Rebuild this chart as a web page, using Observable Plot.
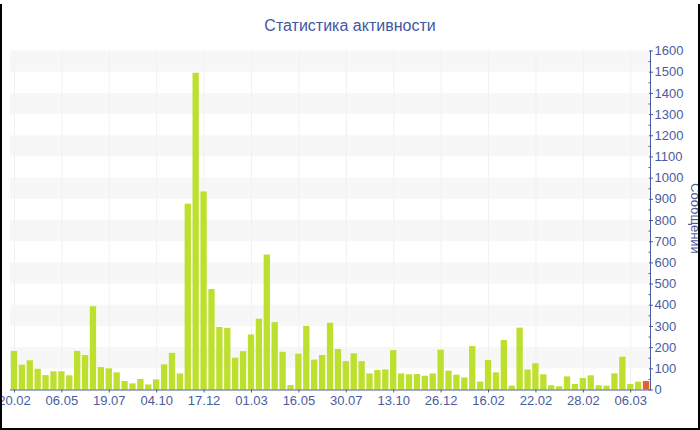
<!DOCTYPE html>
<html>
<head>
<meta charset="utf-8">
<script src="https://cdn.jsdelivr.net/npm/d3@7"></script>
<script src="https://cdn.jsdelivr.net/npm/@observablehq/plot@0.6"></script>
<style>
  html, body { margin: 0; padding: 0; background: #fff; }
  #wrap { position: relative; width: 700px; height: 430px; overflow: hidden; }
  #title { height: 40px; line-height: 52px; text-align: center; font-family: "Liberation Sans", Arial, sans-serif; font-size: 16px; color: #42579f; }
  #border { position: absolute; left: 0; top: 4px; width: 700px; height: 426px; box-sizing: border-box; border-left: 2px solid #000; border-right: 2px solid #000; border-bottom: 2px solid #000; pointer-events: none; }
</style>
</head>
<body>
<div id="wrap">
  <div id="title">Статистика активности</div>
  <div id="chart"></div>
  <div id="border"></div>
</div>
<script>
// Messages per period (81 periods, last one is the current, incomplete period)
const values = [182, 117, 138, 98, 68, 86, 86, 67, 182, 163,
                393, 106, 100, 81, 40, 29, 50, 24, 48, 119,
                173, 76, 877, 1495, 935, 474, 295, 291, 150, 181,
                260, 334, 637, 318, 178, 21, 169, 300, 141, 163,
                315, 191, 134, 171, 134, 76, 92, 95, 186, 76,
                72, 73, 65, 76, 188, 89, 70, 57, 205, 37,
                139, 81, 234, 18, 292, 95, 124, 72, 20, 15,
                62, 26, 54, 67, 20, 18, 76, 155, 26, 37,
                40];
const tickIndex = [0, 6, 12, 18, 24, 30, 36, 42, 48, 54, 60, 66, 72, 78];
const tickLabels = ["20.02", "06.05", "19.07", "04.10", "17.12", "01.03", "16.05",
                    "30.07", "13.10", "26.12", "16.02", "22.02", "28.02", "06.03"];
const yTicks = d3.range(0, 1700, 100);
const yMinor = d3.range(50, 1600, 100);
const stripeStarts = [100, 300, 500, 700, 900, 1100, 1300, 1500];
const yLabel = "Сообщений";

const data = values.map((v, i) => ({i, v, current: i === values.length - 1}));
const labelOf = new Map(tickIndex.map((t, k) => [t, tickLabels[k]]));
const axisColor = "#4a5c9e";

const chart = Plot.plot({
  width: 700,
  height: 390,
  marginLeft: 10,
  marginRight: 50,
  marginTop: 10.5,
  marginBottom: 40.5,
  style: {fontFamily: "Liberation Sans, Arial, sans-serif", fontSize: "13px", color: axisColor, overflow: "visible", background: "transparent"},
  x: {type: "band", domain: d3.range(values.length), paddingInner: 0.2, paddingOuter: 0.1, axis: null},
  y: {domain: [0, 1600], axis: null},
  marks: [
    Plot.rect(stripeStarts, {y1: d => d, y2: d => d + 100, fill: "#f7f7f7"}),
    Plot.ruleX(tickIndex, {x: d => d, y1: 0, y2: 1600, stroke: "#f1f1f1"}),
    Plot.barY(data, {x: "i", y: "v", fill: d => d.current ? "#e5602f" : "#bde02f"}),
    Plot.ruleY([0], {stroke: axisColor, strokeWidth: 1.2}),
    Plot.frame({anchor: "right", stroke: axisColor}),
    Plot.axisX({ticks: tickIndex, tickFormat: d => labelOf.get(d), tickSize: 3, tickPadding: 3, color: axisColor, fontSize: 13, label: null}),
    Plot.axisY({anchor: "right", ticks: yTicks, tickFormat: d => String(d), tickSize: 0, tickPadding: 4, color: axisColor, fontSize: 13, label: null}),
    Plot.axisY({anchor: "right", ticks: yTicks, tickSize: 4, dx: -2, text: null, color: axisColor, label: null}),
    Plot.axisY({anchor: "right", ticks: yMinor, tickSize: 2.5, dx: -2.5, text: null, color: axisColor, label: null}),
    Plot.text([yLabel], {text: d => d, frameAnchor: "right", textAnchor: "middle", dx: 45, dy: -2, rotate: 90, fill: axisColor, fontSize: 13})
  ]
});
document.getElementById("chart").appendChild(chart);
</script>
</body>
</html>
